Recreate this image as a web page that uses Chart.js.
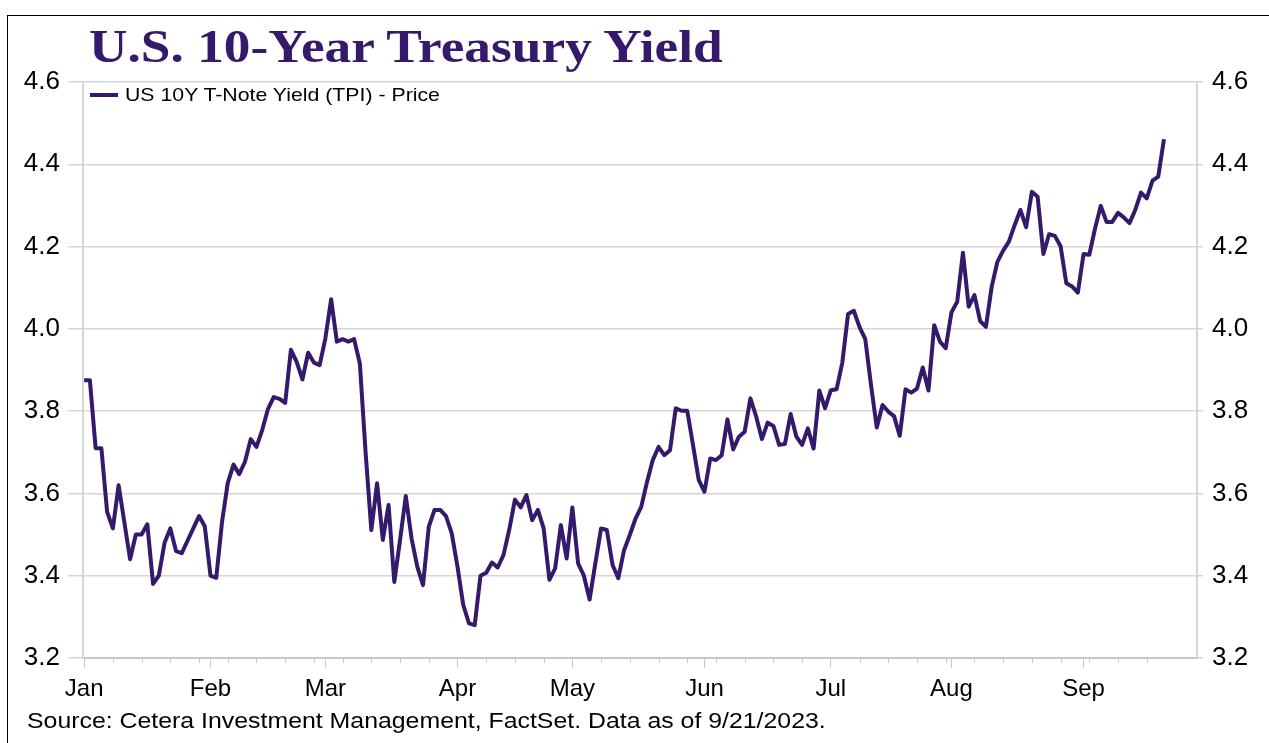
<!DOCTYPE html>
<html>
<head>
<meta charset="utf-8">
<script src="https://cdn.jsdelivr.net/npm/chart.js@4/dist/chart.umd.min.js"></script>
<style>
html, body { margin: 0; padding: 0; background: #fff; }
#wrap { position: relative; width: 1269px; height: 743px; overflow: hidden; }
#frame { position: absolute; left: 7px; top: 15px; right: -10px; bottom: -10px; border-left: 1.5px solid #000; border-top: 1.5px solid #000; }
#title { position: absolute; left: 89px; top: 23px; font: bold 47px "Liberation Serif", serif; line-height: 47px; color: #351a6c; white-space: nowrap; transform: scaleX(1.135); transform-origin: 0 0; }
#source { position: absolute; left: 27px; top: 710px; font: 22px "Liberation Sans", Arial, sans-serif; line-height: 22px; color: #000; white-space: nowrap; transform: scaleX(1.13); transform-origin: 0 0; }
#legend { position: absolute; left: 90px; top: 85px; height: 20px; display: flex; align-items: center; white-space: nowrap; }
#legend .swatch { display: inline-block; width: 28px; height: 4px; background: #351a6c; margin-right: 7px; }
#legend .lbl { display: inline-block; font: 18.5px "Liberation Sans", Arial, sans-serif; line-height: 20px; color: #000; transform: scaleX(1.15); transform-origin: 0 50%; }
canvas { position: absolute; left: 0; top: 0; }
</style>
</head>
<body>
<div id="wrap">
  <div id="frame"></div>
  <canvas id="chart" width="1269" height="743"></canvas>
  <div id="title">U.S. 10-Year Treasury Yield</div>
  <div id="legend"><span class="swatch"></span><span class="lbl" id="legendLabel"></span></div>
  <div id="source">Source: Cetera Investment Management, FactSet. Data as of 9/21/2023.</div>
</div>
<script>
// daily (weekday) yields, Jan 2 2023 .. Sep 21 2023
var yields = [
  3.875, 3.875, 3.71, 3.71, 3.555, 3.515, 3.62, 3.53, 3.44, 3.50,
  3.50, 3.525, 3.38, 3.40, 3.48, 3.515, 3.46, 3.455, 3.485, 3.515,
  3.545, 3.52, 3.40, 3.395, 3.53, 3.625, 3.67, 3.647, 3.677, 3.732,
  3.713, 3.754, 3.805, 3.834, 3.83, 3.82, 3.949, 3.92, 3.877, 3.942,
  3.918, 3.912, 3.977, 4.072, 3.969, 3.975, 3.969, 3.975, 3.916, 3.70,
  3.511, 3.625, 3.487, 3.572, 3.385, 3.487, 3.594, 3.491, 3.422, 3.377,
  3.519, 3.56, 3.56, 3.545, 3.503, 3.422, 3.329, 3.284, 3.28, 3.40,
  3.407, 3.432, 3.42, 3.45, 3.511, 3.585, 3.566, 3.596, 3.535, 3.56,
  3.515, 3.39, 3.418, 3.523, 3.442, 3.566, 3.43, 3.40, 3.342, 3.43,
  3.515, 3.511, 3.426, 3.394, 3.462, 3.499, 3.539, 3.568, 3.628, 3.681,
  3.713, 3.693, 3.705, 3.807, 3.801, 3.801, 3.718, 3.633, 3.604, 3.685,
  3.681, 3.693, 3.78, 3.707, 3.738, 3.75, 3.831, 3.787, 3.732, 3.772,
  3.764, 3.718, 3.72, 3.793, 3.738, 3.718, 3.758, 3.709, 3.85, 3.807,
  3.851, 3.853, 3.918, 4.036, 4.044, 4.004, 3.975, 3.863, 3.76, 3.815,
  3.799, 3.788, 3.74, 3.853, 3.845, 3.855, 3.906, 3.85, 4.009, 3.969,
  3.953, 4.04, 4.066, 4.185, 4.054, 4.082, 4.019, 4.005, 4.102, 4.163,
  4.19, 4.212, 4.252, 4.289, 4.247, 4.333, 4.321, 4.182, 4.23, 4.226,
  4.201, 4.111, 4.103, 4.088, 4.182, 4.18, 4.244, 4.299, 4.26, 4.26,
  4.282, 4.271, 4.257, 4.289, 4.331, 4.317, 4.36, 4.37, 4.461
];

// month labels and the weekday index where each month starts
var monthNames = ["Jan", "Feb", "Mar", "Apr", "May", "Jun", "Jul", "Aug", "Sep"];
var monthStart = [0, 22, 42, 65, 85, 108, 130, 151, 174];

var yTicks = [3.2, 3.4, 3.6, 3.8, 4.0, 4.2, 4.4, 4.6];

var seriesName = 'US 10Y T-Note Yield (TPI) - Price';
var purple = '#351a6c';
var gridGray = '#d6d6d6';

document.getElementById('legendLabel').textContent = seriesName;

var points = yields.map(function (v, i) { return { x: i, y: v }; });

// small weekly ticks under the x axis
var minorTicks = {
  id: 'minorTicks',
  afterDraw: function (chart) {
    var xs = chart.scales.x;
    var ctx = chart.ctx;
    var top = chart.chartArea.bottom;
    ctx.save();
    ctx.strokeStyle = '#c8c8c8';
    ctx.lineWidth = 1;
    for (var i = 0; i < yields.length; i += 5) {
      if (monthStart.indexOf(i) >= 0) continue;
      var px = Math.round(xs.getPixelForValue(i)) + 0.5;
      ctx.beginPath();
      ctx.moveTo(px, top);
      ctx.lineTo(px, top + 5);
      ctx.stroke();
    }
    ctx.restore();
  }
};

var ctx = document.getElementById('chart').getContext('2d');
var chart = new Chart(ctx, {
  type: 'line',
  data: {
    datasets: [{
      label: seriesName,
      data: points,
      borderColor: purple,
      backgroundColor: purple,
      borderWidth: 4,
      pointRadius: 0,
      tension: 0,
      borderJoinStyle: 'round'
    }]
  },
  options: {
    responsive: false,
    animation: false,
    layout: { padding: { top: 82, left: 0, right: 0, bottom: 0 } },
    plugins: {
      legend: { display: false },
      tooltip: { enabled: false }
    },
    scales: {
      x: {
        type: 'linear',
        min: -0.2,
        max: 193.75,
        afterFit: function (s) { s.height = 85; },
        afterBuildTicks: function (s) {
          s.ticks = monthStart.map(function (v) { return { value: v }; });
        },
        ticks: {
          autoSkip: false,
          maxRotation: 0,
          padding: 7,
          color: '#000',
          font: { family: 'Liberation Sans', size: 24 },
          callback: function (v) {
            var k = monthStart.indexOf(v);
            return k >= 0 ? monthNames[k] : '';
          }
        },
        grid: { drawOnChartArea: false, tickLength: 10, color: '#c8c8c8' },
        border: { color: '#c8c8c8', width: 2 }
      },
      y: {
        position: 'left',
        min: 3.2,
        max: 4.6,
        afterFit: function (s) { s.width = 83; },
        afterBuildTicks: function (s) {
          s.ticks = yTicks.map(function (v) { return { value: v }; });
        },
        ticks: {
          padding: 8,
          color: '#000',
          font: { family: 'Liberation Sans', size: 26 },
          callback: function (v) { return v.toFixed(1); }
        },
        grid: { color: gridGray, lineWidth: 1.5, tickLength: 15 },
        border: { color: gridGray, width: 2 }
      },
      y2: {
        position: 'right',
        min: 3.2,
        max: 4.6,
        afterFit: function (s) { s.width = 72; },
        afterBuildTicks: function (s) {
          s.ticks = yTicks.map(function (v) { return { value: v }; });
        },
        ticks: {
          padding: 9,
          color: '#000',
          font: { family: 'Liberation Sans', size: 26 },
          callback: function (v) { return v.toFixed(1); }
        },
        grid: { drawOnChartArea: false, color: gridGray, lineWidth: 1.5, tickLength: 6 },
        border: { color: gridGray, width: 2 }
      }
    }
  },
  plugins: [minorTicks]
});
</script>
</body>
</html>
